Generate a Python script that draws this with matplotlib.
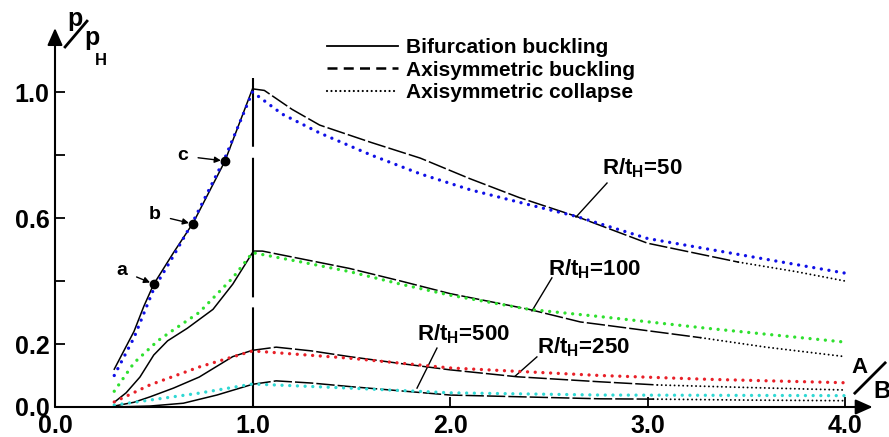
import numpy as np
import matplotlib
matplotlib.use('Agg')
from matplotlib import pyplot as plt
from matplotlib.lines import Line2D

plt.rcParams['font.family'] = ['Liberation Sans', 'DejaVu Sans']
plt.rcParams['font.weight'] = 'bold'
plt.rcParams['mathtext.fontset'] = 'custom'
plt.rcParams['mathtext.rm'] = 'Liberation Sans:bold'
plt.rcParams['mathtext.default'] = 'rm'

# ---- data (x = A/B, y = p/pH) ----
# R/tH = 50
bif50_x = [0.30, 0.35, 0.40, 0.45, 0.50, 0.60, 0.70, 0.86, 1.00]
bif50_y = [0.12, 0.18, 0.24, 0.32, 0.39, 0.49, 0.585, 0.78, 1.01]
axb50_x = [1.00, 1.06, 1.20, 1.34, 1.60, 1.85, 2.10, 2.35, 2.64, 3.00, 3.46]
axb50_y = [1.01, 1.005, 0.945, 0.895, 0.84, 0.79, 0.725, 0.665, 0.605, 0.52, 0.46]
col50_x = [3.46, 3.75, 4.00]
col50_y = [0.46, 0.43, 0.40]
dot50_x = [0.30, 0.40, 0.50, 0.60, 0.70, 0.86, 1.00, 1.15, 1.34, 1.60, 1.85, 2.10,
           2.35, 2.64, 3.00, 3.50, 4.00]
dot50_y = [0.10, 0.22, 0.375, 0.48, 0.59, 0.79, 1.00, 0.93, 0.87, 0.80, 0.74, 0.69,
           0.65, 0.605, 0.535, 0.48, 0.425]

# R/tH = 100
bif100_x = [0.30, 0.36, 0.43, 0.50, 0.57, 0.67, 0.80, 0.90, 1.00]
bif100_y = [0.015, 0.045, 0.095, 0.165, 0.21, 0.25, 0.31, 0.39, 0.49]
axb100_x = [1.00, 1.05, 1.25, 1.49, 1.75, 2.00, 2.40, 2.66, 2.76, 3.27]
axb100_y = [0.495, 0.495, 0.47, 0.44, 0.40, 0.36, 0.31, 0.27, 0.262, 0.22]
col100_x = [3.27, 3.60, 4.00]
col100_y = [0.22, 0.19, 0.16]
dot100_x = [0.30, 0.40, 0.52, 0.60, 0.73, 0.90, 1.00, 1.25, 1.49, 1.75, 2.00, 2.40,
            2.76, 3.30, 4.00]
dot100_y = [0.05, 0.14, 0.21, 0.245, 0.30, 0.41, 0.49, 0.46, 0.43, 0.39, 0.355, 0.31,
            0.287, 0.25, 0.206]

# R/tH = 250
bif250_x = [0.30, 0.40, 0.48, 0.60, 0.73, 0.90, 1.00]
bif250_y = [0.003, 0.015, 0.032, 0.06, 0.095, 0.16, 0.18]
axb250_x = [1.00, 1.12, 1.30, 1.49, 1.75, 2.00, 2.34, 2.76, 3.05]
axb250_y = [0.18, 0.19, 0.178, 0.16, 0.138, 0.118, 0.096, 0.08, 0.07]
col250_x = [3.05, 3.50, 4.00]
col250_y = [0.07, 0.062, 0.054]
dot250_x = [0.30, 0.48, 0.73, 1.00, 1.49, 2.00, 2.76, 3.30, 4.00]
dot250_y = [0.016, 0.07, 0.127, 0.178, 0.155, 0.124, 0.10, 0.088, 0.077]

# R/tH = 500
bif500_x = [0.30, 0.48, 0.65, 0.82, 1.00]
bif500_y = [0.0, 0.003, 0.012, 0.038, 0.072]
axb500_x = [1.00, 1.12, 1.30, 1.49, 2.00, 2.76, 3.03]
axb500_y = [0.072, 0.083, 0.076, 0.065, 0.038, 0.026, 0.025]
col500_x = [3.03, 3.50, 4.00]
col500_y = [0.025, 0.022, 0.02]
dot500_x = [0.30, 0.48, 0.73, 1.00, 1.49, 2.00, 2.76, 4.00]
dot500_y = [0.006, 0.022, 0.044, 0.073, 0.06, 0.045, 0.038, 0.036]

series_names = ['50', '100', '250', '500']
series_colors = ['#1010e6', '#2fe02f', '#e82028', '#30d8d4']

# labelled points a, b, c on the R/tH=50 curve
point_names = ['a', 'b', 'c']
point_x = [0.501, 0.699, 0.861]
point_y = [0.390, 0.581, 0.781]

x_ticks = [0.0, 1.0, 2.0, 3.0, 4.0]
x_ticklabels = ['0.0', '1.0', '2.0', '3.0', '4.0']
y_ticks = [0.0, 0.2, 0.4, 0.6, 0.8, 1.0]
y_ticklabels = ['0.0', '0.2', '', '0.6', '', '1.0']

all_series = {
    '50': (bif50_x, bif50_y, axb50_x, axb50_y, col50_x, col50_y, dot50_x, dot50_y),
    '100': (bif100_x, bif100_y, axb100_x, axb100_y, col100_x, col100_y, dot100_x, dot100_y),
    '250': (bif250_x, bif250_y, axb250_x, axb250_y, col250_x, col250_y, dot250_x, dot250_y),
    '500': (bif500_x, bif500_y, axb500_x, axb500_y, col500_x, col500_y, dot500_x, dot500_y),
}

# ---- figure ----
fig = plt.figure(figsize=(8.89, 4.37), dpi=100)
ax = fig.add_axes([55 / 889, 30 / 437, 790 / 889, 315 / 437])
ax.set_xlim(0, 4)
ax.set_ylim(0, 1)
for s in ax.spines.values():
    s.set_visible(False)

dash_black = (0, (12, 2))
dot_black = (0, (0.01, 2.2))
dot_col = (0, (0.01, 2.3))

for name, color in zip(series_names, series_colors):
    bx, by, ax_x, ax_y, cx, cy, dx, dy = all_series[name]
    ax.plot(bx, by, color='k', lw=1.1, clip_on=False)
    ax.plot(ax_x, ax_y, color='k', lw=1.1, linestyle=dash_black, clip_on=False)
    ax.plot(cx, cy, color='k', lw=1.4, linestyle=dot_black,
            dash_capstyle='round', clip_on=False)
    ax.plot(dx, dy, color=color, lw=2.4, linestyle=dot_col,
            dash_capstyle='round', clip_on=False, zorder=3)

# vertical line at A/B = 1
ax.plot([1.0, 1.0], [1.044, 0.0], color='k', lw=1.5,
        linestyle=(0, (33, 5.3, 67, 4.8, 100, 1)), clip_on=False)

# axes with arrows
arrow = dict(arrowstyle='-|>,head_length=0.45,head_width=0.2', color='k',
             lw=1.5, mutation_scale=23, shrinkA=0, shrinkB=0)
ax.annotate('', xy=(0, 1.203), xytext=(0, 0), arrowprops=arrow, annotation_clip=False)
ax.annotate('', xy=(4.14, 0), xytext=(0, 0), arrowprops=arrow, annotation_clip=False)

ax.set_xticks(x_ticks)
ax.set_xticklabels(x_ticklabels)
ax.set_yticks(y_ticks)
ax.set_yticklabels(y_ticklabels)
ax.tick_params(direction='in', length=7.2, width=1.3, labelsize=18, pad=4)
ax.tick_params(axis='x', pad=5)

# points a, b, c
ax.plot(point_x, point_y, 'o', color='k', ms=6, clip_on=False, zorder=4)
label_pos = [(0.339, 0.432), (0.506, 0.610), (0.648, 0.797)]
for nm, px, py, (tx, ty) in zip(point_names, point_x, point_y, label_pos):
    ax.annotate(nm, xy=(px, py), xytext=(tx, ty), fontsize=14, fontweight='bold',
                ha='center', va='center',
                arrowprops=dict(arrowstyle='-|>', color='k', lw=1.0,
                                mutation_scale=9, shrinkA=5, shrinkB=3))

# R/tH labels with leader lines
rt_text = [(2.77, 0.737), (2.496, 0.419), (2.44, 0.171), (1.833, 0.213)]
rt_lead = [((2.795, 0.711), (2.638, 0.603)),
           ((2.516, 0.410), (2.415, 0.305)),
           ((2.44, 0.159), (2.33, 0.098)),
           ((1.934, 0.187), (1.833, 0.060))]
for name, (tx, ty), ((x0, y0), (x1, y1)) in zip(series_names, rt_text, rt_lead):
    ax.text(tx, ty, 'R/t$_{\\mathrm{H}}$=' + name, fontsize=16, fontweight='bold',
            ha='left', va='baseline')
    ax.plot([x0, x1], [y0, y1], color='k', lw=1.0)

# axis titles p/pH and A/B
ax.text(0.101, 1.2095, 'p', fontsize=18, fontweight='bold', ha='center', va='baseline')
ax.plot([0.051, 0.162], [1.143, 1.225], color='k', lw=2.0, clip_on=False)
ax.text(0.187, 1.149, 'p', fontsize=18, fontweight='bold', ha='center', va='baseline')
ax.text(0.233, 1.086, 'H', fontsize=12, fontweight='bold', ha='center', va='baseline')

ax.text(4.073, 0.108, 'A', fontsize=16, fontweight='bold', ha='center', va='baseline')
ax.plot([4.05, 4.203], [0.044, 0.14], color='k', lw=2.0, clip_on=False)
ax.text(4.142, 0.0286, 'B', fontsize=17, fontweight='bold', ha='left', va='baseline')

# legend
handles = [Line2D([], [], color='k', lw=1.3),
           Line2D([], [], color='k', lw=1.8, linestyle=(0, (4, 2.5))),
           Line2D([], [], color='k', lw=1.6, linestyle=(0, (0.01, 2.0)),
                  dash_capstyle='round')]
labels = ['Bifurcation buckling', 'Axisymmetric buckling', 'Axisymmetric collapse']
leg = fig.legend(handles, labels, loc='upper left',
                 bbox_to_anchor=(327 / 889, 1 - 38 / 437), bbox_transform=fig.transFigure,
                 frameon=False, borderpad=0, borderaxespad=0, handlelength=3.4,
                 handletextpad=0.38, labelspacing=0.18, prop={'size': 15, 'weight': 'bold'})

fig.savefig('out.png', dpi=100)
